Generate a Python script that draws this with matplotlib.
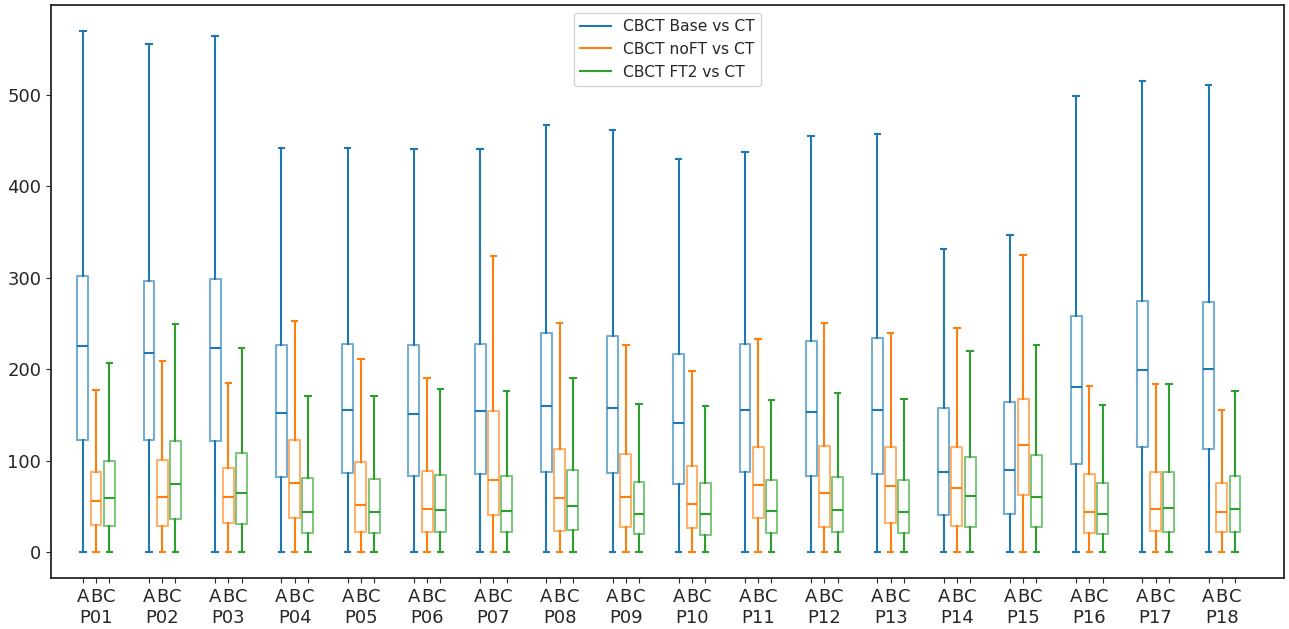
import numpy as np
import matplotlib
matplotlib.use('Agg')
import matplotlib.pyplot as plt

patients = ['P%02d' % i for i in range(1, 19)]
series = ['CBCT Base vs CT', 'CBCT noFT vs CT', 'CBCT FT2 vs CT']
colors = ['#1f77b4', '#ff7f0e', '#2ca02c']

# (whislo, q1, median, q3, whishi) per patient
base = [(0, 122, 225, 302, 570), (0, 122, 218, 296, 556), (0, 121, 223, 299, 565),
        (0, 82, 152, 226, 442), (0, 86, 155, 228, 442), (0, 83, 151, 226, 441),
        (0, 85, 154, 228, 441), (0, 87, 160, 240, 467), (0, 86, 157, 236, 462),
        (0, 74, 141, 217, 430), (0, 87, 155, 228, 438), (0, 83, 153, 231, 455),
        (0, 85, 155, 234, 457), (0, 40, 87, 157, 331), (0, 41, 90, 164, 347),
        (0, 96, 180, 258, 499), (0, 115, 199, 275, 515), (0, 113, 200, 273, 511)]
noft = [(0, 29, 56, 88, 177), (0, 28, 60, 101, 209), (0, 32, 60, 92, 185),
        (0, 37, 75, 123, 253), (0, 22, 51, 98, 211), (0, 22, 47, 89, 190),
        (0, 40, 79, 154, 324), (0, 23, 59, 113, 250), (0, 27, 60, 107, 226),
        (0, 26, 53, 94, 198), (0, 37, 73, 115, 233), (0, 27, 64, 116, 250),
        (0, 32, 72, 115, 240), (0, 28, 70, 115, 245), (0, 62, 117, 167, 325),
        (0, 21, 44, 85, 182), (0, 23, 47, 87, 184), (0, 22, 44, 75, 155)]
ft2 = [(0, 28, 59, 100, 207), (0, 36, 74, 121, 249), (0, 31, 65, 108, 223),
       (0, 21, 44, 81, 171), (0, 21, 44, 80, 171), (0, 22, 46, 84, 178),
       (0, 22, 45, 83, 176), (0, 24, 50, 90, 190), (0, 20, 42, 77, 162),
       (0, 19, 41, 75, 160), (0, 21, 45, 79, 166), (0, 22, 46, 82, 174),
       (0, 21, 44, 79, 167), (0, 27, 61, 104, 220), (0, 27, 60, 106, 226),
       (0, 20, 42, 76, 161), (0, 22, 48, 87, 184), (0, 22, 47, 83, 176)]

txt = '#262626'
plt.rcParams['font.family'] = 'DejaVu Sans'
fig = plt.figure(figsize=(12.89, 6.29), dpi=100)
ax = fig.add_axes([51 / 1289, 1 - 578 / 629, 1233 / 1289, 573 / 629])

offsets = [-0.2, 0.0, 0.2]
for data, off, c, name in zip([base, noft, ft2], offsets, colors, series):
    stats = [dict(whislo=d[0], q1=d[1], med=d[2], q3=d[3], whishi=d[4], fliers=[])
             for d in data]
    pos = np.arange(len(patients)) + off
    ax.bxp(stats, positions=pos, widths=0.165, showfliers=False, manage_ticks=False,
           boxprops=dict(color=c, alpha=0.6, linewidth=1.5),
           medianprops=dict(color=c, linewidth=1.5),
           whiskerprops=dict(color=c, linewidth=1.5),
           capprops=dict(color=c, linewidth=1.5))
    ax.plot([], [], color=c, label=name)

ticks = []
labels = []
for i, p in enumerate(patients):
    ticks += [i - 0.2, i, i + 0.2]
    labels += ['A', 'B\n' + p, 'C']
ax.set_xticks(ticks)
ax.set_xticklabels(labels, fontsize=13, color=txt)
ax.set_xlim(-0.68, 17.94)
ax.set_ylim(-28.5, 598.5)
ax.set_yticks([0, 100, 200, 300, 400, 500])
ax.tick_params(axis='y', labelsize=13, labelcolor=txt, color=txt)
ax.tick_params(axis='x', color=txt)
for s in ax.spines.values():
    s.set_color(txt)
    s.set_linewidth(1.3)

leg = ax.legend(loc='upper center', fontsize=11.2)
for t in leg.get_texts():
    t.set_color(txt)

fig.savefig('out.png', dpi=100)
